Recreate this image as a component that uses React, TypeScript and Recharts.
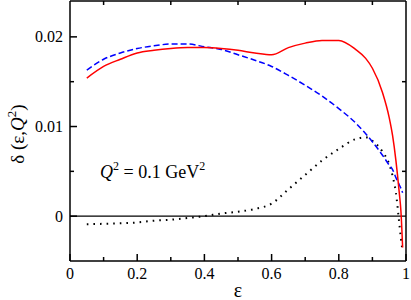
import { LineChart, Line, XAxis, YAxis, ReferenceLine } from 'recharts';

const eps = [0.05, 0.1, 0.15, 0.2, 0.25, 0.3, 0.35, 0.4, 0.45, 0.5, 0.55, 0.6, 0.65, 0.7, 0.75, 0.8, 0.85, 0.88, 0.9, 0.93, 0.95, 0.96, 0.97, 0.98, 0.985, 0.99];
const deltaFull = [0.0154, 0.0167, 0.0175, 0.0182, 0.0185, 0.0187, 0.0188, 0.0188, 0.0187, 0.0185, 0.0182, 0.018, 0.0188, 0.0193, 0.0196, 0.0196, 0.0186, 0.0176, 0.0165, 0.0138, 0.011, 0.009, 0.0062, 0.0026, 0.0005, -0.0035];
const deltaApprox = [0.0163, 0.0175, 0.0182, 0.0187, 0.019, 0.0192, 0.0192, 0.0189, 0.0186, 0.018, 0.0174, 0.0167, 0.0157, 0.0146, 0.0134, 0.012, 0.0104, 0.0092, 0.0083, 0.0068, 0.0057, 0.0052, 0.0043, 0.0035, 0.0031, 0.0026];
const deltaDiff = [-0.0009, -0.00085, -0.0008, -0.0007, -0.0005, -0.0004, -0.0002, 0, 0.0003, 0.0005, 0.0008, 0.0014, 0.003, 0.0046, 0.0062, 0.0075, 0.0086, 0.0088, 0.0084, 0.0072, 0.0058, 0.0045, 0.0026, -0.0008, -0.0025, -0.004];

const xMajorTicks = [0, 0.2, 0.4, 0.6, 0.8, 1];
const xTickLabels = ['0', '0.2', '0.4', '0.6', '0.8', '1'];
const xMinorTicks = [0.1, 0.3, 0.5, 0.7, 0.9];
const yMajorTicks = [0, 0.01, 0.02];
const yTickLabels = ['0', '0.01', '0.02'];
const yMinorTicks = [0.005, 0.015];

const data = eps.map((e, i) => ({
    eps: e,
    full: deltaFull[i],
    approx: deltaApprox[i],
    diff: deltaDiff[i],
}));

const font = '"Liberation Serif", "Times New Roman", serif';
const xDomain = [0, 1];
const yDomain = [-0.005, 0.024];

// plot box is 336 x 260 px; minor tick length in data units
const PLOT_W = 336;
const PLOT_H = 260;
const MINOR = 4;
const minorX = (MINOR * (xDomain[1] - xDomain[0])) / PLOT_W;
const minorY = (MINOR * (yDomain[1] - yDomain[0])) / PLOT_H;

function BottomLabel({ x, y, index }: any) {
    return (
        <text x={x} y={y + 18} textAnchor="middle" fontSize={16} fontFamily={font} fill="#000">
            {xTickLabels[index]}
        </text>
    );
}

function LeftLabel({ x, y, index }: any) {
    return (
        <text x={x - 7} y={y + 5.5} textAnchor="end" fontSize={16} fontFamily={font} fill="#000">
            {yTickLabels[index]}
        </text>
    );
}

const axisLine = { stroke: '#000', strokeWidth: 1.5 };
const tickLine = { stroke: '#000', strokeWidth: 1.5 };

export default function App() {
    return (
        <div style={{ position: 'absolute', left: 0, top: 0, width: 411, height: 300, background: '#fff' }}>
            <LineChart width={411} height={300} data={data} margin={{ top: 0, right: 4, bottom: 9, left: 10 }}>
                <XAxis
                    dataKey="eps"
                    type="number"
                    domain={xDomain}
                    allowDataOverflow
                    ticks={xMajorTicks}
                    interval={0}
                    tickSize={-7}
                    tickMargin={7}
                    tickLine={tickLine}
                    axisLine={axisLine}
                    tick={BottomLabel}
                    height={30}
                />
                <XAxis
                    xAxisId="top"
                    dataKey="eps"
                    orientation="top"
                    type="number"
                    domain={xDomain}
                    allowDataOverflow
                    ticks={xMajorTicks}
                    interval={0}
                    tickSize={-7}
                    tick={false}
                    tickLine={tickLine}
                    axisLine={axisLine}
                    height={1}
                />
                <YAxis
                    type="number"
                    domain={yDomain}
                    allowDataOverflow
                    ticks={yMajorTicks}
                    interval={0}
                    tickSize={-7}
                    tickMargin={7}
                    tickLine={tickLine}
                    axisLine={axisLine}
                    tick={LeftLabel}
                    width={60}
                />
                <YAxis
                    yAxisId="right"
                    dataKey="full"
                    orientation="right"
                    type="number"
                    domain={yDomain}
                    allowDataOverflow
                    ticks={yMajorTicks}
                    interval={0}
                    tickSize={-7}
                    tick={false}
                    tickLine={tickLine}
                    axisLine={axisLine}
                    width={1}
                />

                {xMinorTicks.map((t) => (
                    <ReferenceLine key={`b${t}`} ifOverflow="visible" segment={[{ x: t, y: yDomain[0] }, { x: t, y: yDomain[0] + minorY }]} {...tickLine} />
                ))}
                {xMinorTicks.map((t) => (
                    <ReferenceLine key={`t${t}`} ifOverflow="visible" segment={[{ x: t, y: yDomain[1] }, { x: t, y: yDomain[1] - minorY }]} {...tickLine} />
                ))}
                {yMinorTicks.map((v) => (
                    <ReferenceLine key={`l${v}`} ifOverflow="visible" segment={[{ x: xDomain[0], y: v }, { x: xDomain[0] + minorX, y: v }]} {...tickLine} />
                ))}
                {yMinorTicks.map((v) => (
                    <ReferenceLine key={`r${v}`} ifOverflow="visible" segment={[{ x: xDomain[1], y: v }, { x: xDomain[1] - minorX, y: v }]} {...tickLine} />
                ))}

                <ReferenceLine y={0} stroke="#000" strokeWidth={1.3} />
                <Line dataKey="diff" type="monotone" stroke="#000" strokeWidth={2} strokeDasharray="1.6 5" dot={false} isAnimationActive={false} />
                <Line dataKey="approx" type="monotone" stroke="#0000ff" strokeWidth={1.5} strokeDasharray="6 3" dot={false} isAnimationActive={false} />
                <Line dataKey="full" type="monotone" stroke="#ff0000" strokeWidth={1.5} dot={false} isAnimationActive={false} />

                <text x={100} y={178} fontSize={18} fontFamily={font} fill="#000">
                    <tspan fontStyle="italic">Q</tspan>
                    <tspan fontSize={12} dy={-8}>2</tspan>
                    <tspan dy={8}> = 0.1 GeV</tspan>
                    <tspan fontSize={12} dy={-8}>2</tspan>
                </text>
                <text x={238} y={297} textAnchor="middle" fontSize={20} fontFamily={font} fill="#000">
                    ε
                </text>
                <text
                    transform="translate(24,134) rotate(-90)"
                    textAnchor="middle"
                    fontSize={19}
                    fontFamily={font}
                    fill="#000"
                >
                    δ (ε,<tspan fontStyle="italic">Q</tspan>
                    <tspan fontSize={13} dy={-8}>2</tspan>
                    <tspan dy={8}>)</tspan>
                </text>
            </LineChart>
        </div>
    );
}
